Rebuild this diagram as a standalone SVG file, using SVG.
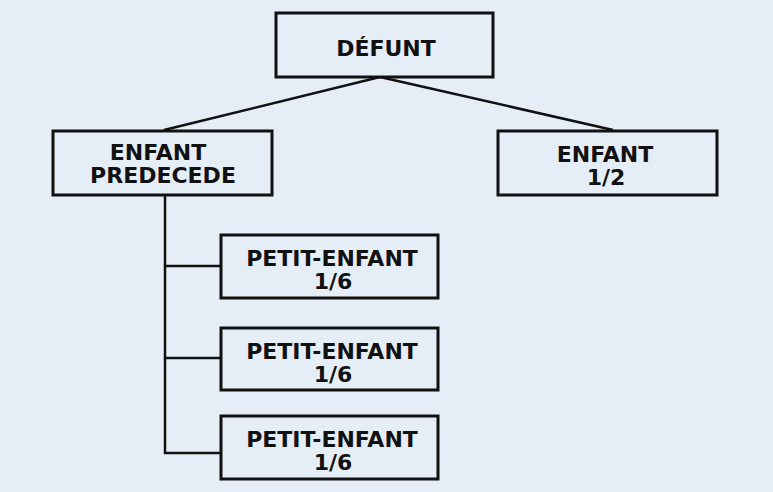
<svg xmlns="http://www.w3.org/2000/svg" width="773" height="492" viewBox="0 0 773 492">
<style>
.box{fill:#e5eef7;stroke:#111;stroke-width:3}
.t{font-family:"DejaVu Sans","Liberation Sans",sans-serif;font-weight:bold;font-size:22px;fill:#111;text-anchor:middle}
.c{fill:none;stroke:#111;stroke-width:2.5}
</style>
<rect width="773" height="492" fill="#e5eef7"/>
<g id="connectors">
<line class="c" x1="380" y1="77" x2="164" y2="130"/>
<line class="c" x1="380" y1="77" x2="613" y2="130"/>
<polyline class="c" points="165,195 165,453 220,453"/>
<line class="c" x1="165" y1="266" x2="220" y2="266"/>
<line class="c" x1="165" y1="358" x2="220" y2="358"/>
</g>
<g id="defunt">
<rect class="box" x="276" y="13" width="217" height="64"/>
<text class="t" x="386" y="56">DÉFUNT</text>
</g>
<g id="enfant-predecede">
<rect class="box" x="53" y="131" width="219" height="64"/>
<text class="t"><tspan x="158" y="160">ENFANT</tspan><tspan x="163" y="183">PREDECEDE</tspan></text>
</g>
<g id="enfant">
<rect class="box" x="498" y="131" width="219" height="64"/>
<text class="t"><tspan x="605" y="162">ENFANT</tspan><tspan x="606" y="185">1/2</tspan></text>
</g>
<g id="petit1">
<rect class="box" x="221" y="235" width="217" height="63"/>
<text class="t"><tspan x="332" y="266">PETIT-ENFANT</tspan><tspan x="333" y="289">1/6</tspan></text>
</g>
<g id="petit2">
<rect class="box" x="221" y="328" width="217" height="62"/>
<text class="t"><tspan x="332" y="359">PETIT-ENFANT</tspan><tspan x="333" y="382">1/6</tspan></text>
</g>
<g id="petit3">
<rect class="box" x="221" y="416" width="217" height="63"/>
<text class="t"><tspan x="332" y="447">PETIT-ENFANT</tspan><tspan x="333" y="470">1/6</tspan></text>
</g>
</svg>
